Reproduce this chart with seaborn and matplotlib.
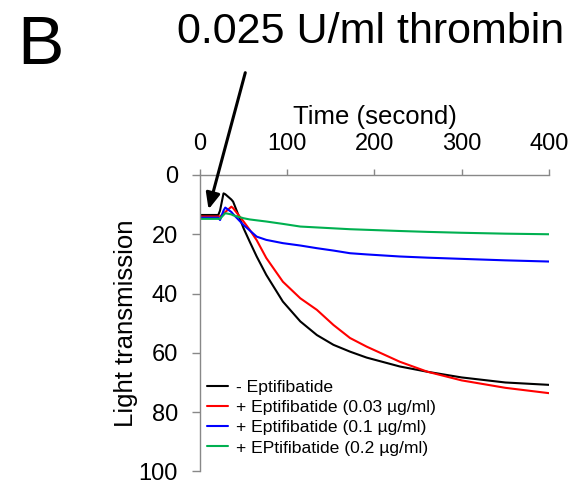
import matplotlib
matplotlib.use("Agg")
import matplotlib.pyplot as plt
import seaborn as sns
import pandas as pd

# time points (second)
time_s = [0, 10, 21, 23, 27, 29, 36, 38, 50, 57, 65, 76, 95, 115, 134, 153, 172,
          191, 229, 261, 300, 350, 400]

no_eptifibatide = [13.5, 13.5, 13.5, 12, 6.2, 6.5, 8.3, 9, 18, 22.5, 27.5, 33.7, 42.7,
                   49.4, 54, 57.3, 59.6, 61.6, 64.6, 66.4, 68.3, 70, 70.8]
epti_003 = [14, 14, 14, 14, 13, 12.5, 10.7, 11.2, 15.7, 18.5, 22, 28, 36,
            41.6, 45.5, 50.6, 55, 57.9, 63, 66.4, 69.3, 71.8, 73.6]
epti_01 = [14.4, 14.4, 14.4, 15.2, 12, 11, 12.5, 13.2, 16.9, 18.7, 20.8, 21.9, 23,
           23.8, 24.7, 25.5, 26.4, 26.8, 27.5, 27.9, 28.3, 28.8, 29.2]
epti_02 = [14.8, 14.8, 14.8, 14.8, 13.5, 12.9, 13.3, 13.6, 14.6, 15, 15.3, 15.7, 16.5,
           17.4, 17.7, 18, 18.3, 18.5, 18.9, 19.2, 19.5, 19.8, 20]

series_names = ["- Eptifibatide", "+ Eptifibatide (0.03 µg/ml)",
                "+ Eptifibatide (0.1 µg/ml)", "+ EPtifibatide (0.2 µg/ml)"]
colors = ["black", "red", "blue", "#00b050"]

df = pd.DataFrame({
    "time": time_s * 4,
    "value": no_eptifibatide + epti_003 + epti_01 + epti_02,
    "condition": sum([[n] * len(time_s) for n in series_names], []),
})

sns.set_theme(style="white")
plt.rcParams["font.family"] = ["Liberation Sans", "DejaVu Sans"]
plt.rcParams["text.color"] = "black"
plt.rcParams["axes.labelcolor"] = "black"

fig = plt.figure(figsize=(5.73, 4.84), dpi=100)
ax = fig.add_axes([0.349, 0.026, 0.609, 0.6125])

sns.lineplot(data=df, x="time", y="value", hue="condition", palette=colors,
             linewidth=1.5, ax=ax)

ax.set_xlim(0, 400)
ax.set_ylim(100, 0)
ax.set_xticks([0, 100, 200, 300, 400])
ax.set_yticks([0, 20, 40, 60, 80, 100])
ax.xaxis.set_ticks_position("top")
ax.xaxis.set_label_position("top")
ax.tick_params(axis="both", labelsize=17, width=1, color="#888888",
               direction="out", labelcolor="black")
ax.tick_params(axis="x", top=True, bottom=False, length=4.5, pad=10)
ax.tick_params(axis="y", left=True, length=6, pad=10)
for side in ["right", "bottom"]:
    ax.spines[side].set_visible(False)
for side in ["top", "left"]:
    ax.spines[side].set_color("#888888")
    ax.spines[side].set_linewidth(1)
ax.set_xlabel("Time (second)", fontsize=18.5, labelpad=6)
ax.set_ylabel("Light transmission", fontsize=18.5, labelpad=0)

leg = ax.legend(loc="lower left", bbox_to_anchor=(0.0, 0.03), frameon=False,
                fontsize=12.6, handlelength=1.2, handletextpad=0.45,
                labelspacing=0.28, borderaxespad=0.0)
for h in leg.get_lines():
    h.set_linewidth(1.5)

fig.text(0.03, 0.972, "B", fontsize=50, ha="left", va="top")
fig.text(0.984, 0.975, "0.025 U/ml thrombin", fontsize=31, ha="right", va="top")
ax.annotate("", xy=(9, 12.5), xycoords="data",
            xytext=(246 / 573, 1 - 70 / 484), textcoords="figure fraction",
            arrowprops=dict(arrowstyle="-|>,head_length=0.8,head_width=0.35",
                            color="black", lw=2.2),
            annotation_clip=False)

fig.savefig("out.png", dpi=100)
